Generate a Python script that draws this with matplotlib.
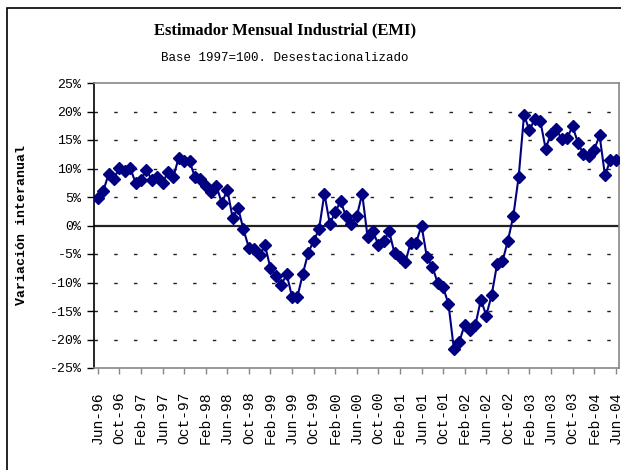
import matplotlib
matplotlib.use("Agg")
import matplotlib.pyplot as plt
import numpy as np

# variacion interanual (%) Jun-96 .. Jun-04, mensual
valores = [
    4.8, 6.0, 9.0, 8.2, 10.1, 9.5, 10.1, 7.5, 8.0, 9.8,
    8.0, 8.5, 7.5, 9.3, 8.5, 11.9, 11.3, 11.3, 8.5, 8.2,
    7.0, 5.9, 6.9, 3.9, 6.3, 1.3, 3.1, -0.7, -3.9, -4.2,
    -5.2, -3.5, -7.5, -8.9, -10.5, -8.5, -12.5, -12.5, -8.5, -4.8,
    -2.7, -0.7, 5.6, 0.3, 2.3, 4.3, 1.6, 0.3, 1.6, 5.6,
    -2.0, -1.0, -3.4, -2.8, -1.0, -4.9, -5.5, -6.4, -3.0, -3.0,
    0.0, -5.6, -7.2, -10.1, -10.8, -13.8, -21.7, -20.4, -17.4, -18.4,
    -17.4, -13.0, -15.8, -12.2, -6.8, -6.3, -2.7, 1.6, 8.5, 19.4,
    16.7, 18.7, 18.4, 13.5, 16.1, 16.9, 15.1, 15.4, 17.4, 14.5,
    12.5, 12.2, 13.3, 15.8, 8.8, 11.5, 11.5,
]

etiquetas = ["Jun-96", "Oct-96", "Feb-97", "Jun-97", "Oct-97", "Feb-98", "Jun-98",
             "Oct-98", "Feb-99", "Jun-99", "Oct-99", "Feb-00", "Jun-00", "Oct-00",
             "Feb-01", "Jun-01", "Oct-01", "Feb-02", "Jun-02", "Oct-02", "Feb-03",
             "Jun-03", "Oct-03", "Feb-04", "Jun-04"]

niveles = [25, 20, 15, 10, 5, 0, -5, -10, -15, -20, -25]

mono = "Liberation Mono"

fig = plt.figure(figsize=(6.21, 4.70), dpi=100)

# marco exterior del grafico (solo se ven borde izq y superior)
fig.add_artist(plt.Rectangle((7 / 621, -0.1), 1.2, 1 - 8 / 470 + 0.1,
                             transform=fig.transFigure, fill=False,
                             edgecolor="black", linewidth=1.2))

ax = fig.add_axes([94 / 621, 1 - 368 / 470, (619 - 94) / 621, (368 - 83) / 470])

x = np.arange(len(valores))
ax.plot(x, valores, color="#000080", linewidth=1.5, marker="D",
        markersize=6, zorder=3)

# grilla punteada
for n in niveles:
    if n in (25, -25, 0):
        continue
    ax.axhline(n, color="#222222", linewidth=1, linestyle=(0, (2.5, 11.7)), zorder=1)
ax.axhline(0, color="#222222", linewidth=1.6, zorder=2)

ax.set_xlim(-0.7, 96.6)
ax.set_ylim(-25, 25)

ax.set_yticks(niveles)
ax.set_yticklabels([f"{n}%" for n in niveles], fontfamily=mono, fontsize=9.5)
ax.set_xticks(x[::4])
ax.set_xticklabels(etiquetas, rotation=90, fontfamily=mono, fontsize=10.5)
ax.tick_params(axis="y", length=5, width=1, direction="out", pad=4)
ax.tick_params(axis="x", length=4, width=1, color="#888888", direction="out", pad=13)

for lado in ("top", "right", "bottom"):
    ax.spines[lado].set_color("#888888")
    ax.spines[lado].set_linewidth(1.2)
ax.spines["left"].set_color("black")
ax.spines["left"].set_linewidth(1.2)

fig.text(285 / 621, 1 - 30 / 470, "Estimador Mensual Industrial (EMI)",
         ha="center", va="center", fontfamily="Liberation Serif",
         fontweight="bold", fontsize=12)
fig.text(285 / 621, 1 - 58 / 470, "Base 1997=100. Desestacionalizado",
         ha="center", va="center", fontfamily=mono, fontsize=9)
fig.text(22 / 621, 1 - 225 / 470, "Variación interanual", rotation=90,
         ha="center", va="center", fontfamily=mono, fontweight="bold",
         fontsize=9.5)

fig.savefig("out.png", dpi=100)
